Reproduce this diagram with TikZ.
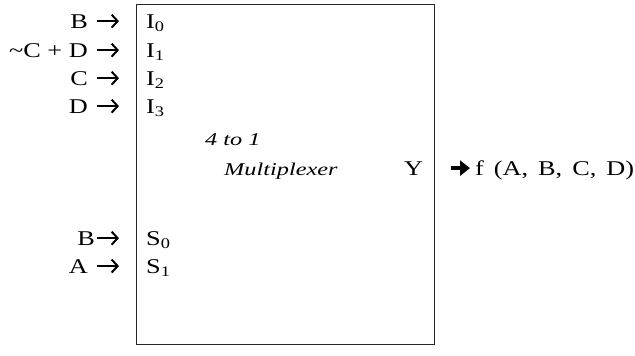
\documentclass[tikz,border=0pt]{standalone}
\usepackage{fontspec}
\setmainfont{Liberation Serif}[FakeStretch=1.25]
\newfontfamily\titfont{Liberation Serif}[FakeStretch=1.35]
\usetikzlibrary{arrows.meta,positioning}
\tikzset{
  >=Latex,
  lbl/.style={anchor=base east,inner sep=0pt,font=\fontsize{21}{25}\selectfont},
  port/.style={anchor=base west,inner sep=0pt,font=\fontsize{21}{25}\selectfont},
  ital/.style={anchor=base west,inner sep=0pt,font=\fontsize{18}{22}\titfont\itshape},
  muxbox/.style={draw=black!85,line width=.8pt,anchor=north west,inner sep=0pt},
  inarr/.style={-{Straight Barb[length=6pt,width=13pt]},line width=2pt,shorten >=27pt},
  outarr/.style={-{Triangle[length=10pt,width=15pt]},line width=4pt,shorten <=16pt,shorten >=5pt}
}
\newcommand{\gap}{\kern9pt}
\newcommand{\widesp}{\spaceskip=10pt\relax}
\begin{document}
\begin{tikzpicture}[x=1pt,y=-1pt]
  \useasboundingbox (0,0) rectangle (635,356);
  \node[muxbox,minimum width=298pt,minimum height=340pt] (mux) at (136,4) {};
  % data inputs
  \node[port] (i0) at (146,28) {I\textsubscript{0}};
  \node[port] (i1) at (146,57) {I\textsubscript{1}};
  \node[port] (i2) at (146,85) {I\textsubscript{2}};
  \node[port] (i3) at (146,113) {I\textsubscript{3}};
  \node[lbl] (b0) at (97,28) {B\gap};
  \node[lbl] (b1) at (97,57) {\textasciitilde C + D\gap};
  \node[lbl] (b2) at (97,85) {C\gap};
  \node[lbl] (b3) at (97,113) {D\gap};
  \draw[inarr] (b0.east) -- (b0.east -| i0.west);
  \draw[inarr] (b1.east) -- (b1.east -| i1.west);
  \draw[inarr] (b2.east) -- (b2.east -| i2.west);
  \draw[inarr] (b3.east) -- (b3.east -| i3.west);
  % select inputs
  \node[port] (s0) at (146,245) {S\textsubscript{0}};
  \node[port] (s1) at (146,273) {S\textsubscript{1}};
  \node[lbl] (c0) at (97,245) {B\kern2pt};
  \node[lbl] (c1) at (97,273) {A\gap};
  \draw[inarr] (c0.east) -- (c0.east -| s0.west);
  \draw[inarr] (c1.east) -- (c1.east -| s1.west);
  % title and output
  \node[ital] (t1) at (205,145) {4 to 1};
  \node[ital] (t2) at (224,175) {Multiplexer};
  \node[port] (y) at (404,175) {Y};
  \node[port] (fout) at (475,175) {\widesp f (A, B, C, D)};
  \draw[outarr] (y.east -| mux.east) -- (y.east -| fout.west);
\end{tikzpicture}
\end{document}
